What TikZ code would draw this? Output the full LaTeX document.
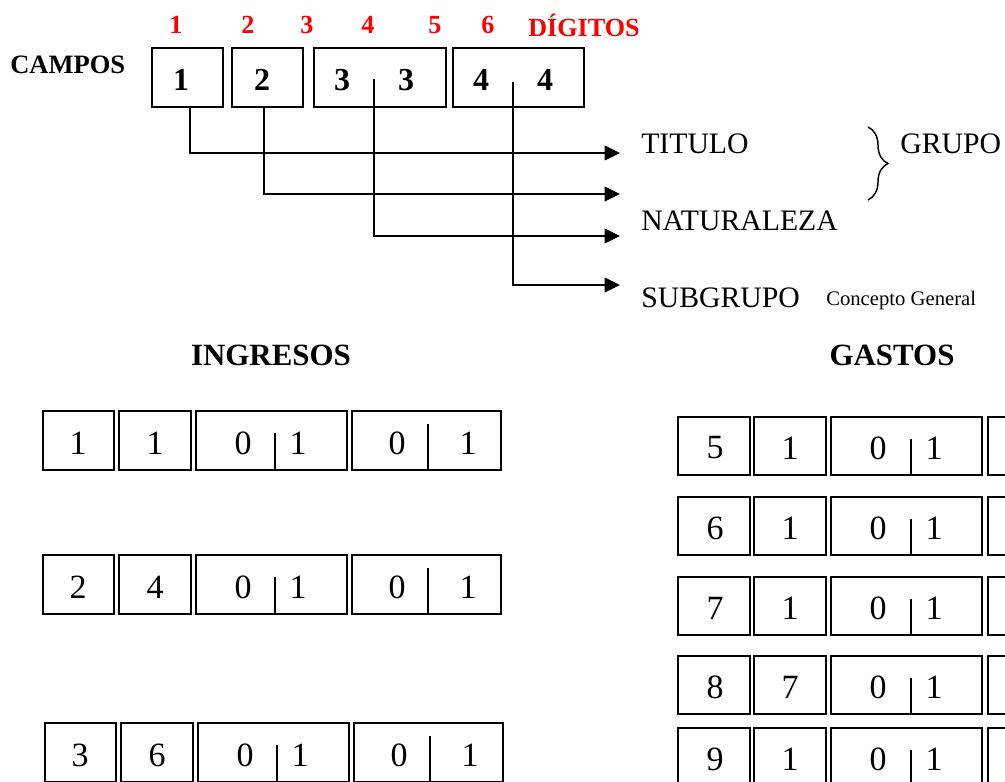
\documentclass[tikz,border=0pt]{standalone}
\usepackage{fontspec}
\setmainfont{Liberation Serif}
\usetikzlibrary{arrows.meta,fit,decorations.pathreplacing}
\definecolor{dred}{RGB}{255,0,0}
\tikzset{
 box/.style={draw, line width=1.1pt, inner sep=0pt},
 dig/.style={font=\fontsize{25.5}{26}\selectfont, inner sep=0pt},
 bdig/.style={font=\fontsize{24}{25}\selectfont\bfseries, inner sep=0pt},
 rdig/.style={font=\fontsize{19.6}{20}\selectfont\bfseries, text=dred, inner sep=0pt},
 lab/.style={font=\fontsize{22.3}{23}\selectfont, inner sep=0pt, anchor=west},
 small/.style={font=\fontsize{15.5}{16}\selectfont, inner sep=0pt, anchor=west},
 head/.style={font=\fontsize{23.2}{24}\selectfont\bfseries, inner sep=0pt},
 conn/.style={line width=1.1pt, -{Triangle[length=11.5pt,width=11pt]}},
 tickline/.style={line width=1.1pt},
}
% ingresos row: #1 name, #2 top y, #3 x offset, #4 first digit, #5 second digit
\newcommand\ingrow[5]{%
 \node[box, fit={({43+#3},{#2}) ({114+#3},{#2+59})}] (#1a) {};
 \node[box, fit={({119+#3},{#2}) ({191+#3},{#2+59})}] (#1b) {};
 \node[box, fit={({196+#3},{#2}) ({347+#3},{#2+59})}] (#1c) {};
 \node[box, fit={({352+#3},{#2}) ({501+#3},{#2+59})}] (#1d) {};
 \node[dig] (#1ta) at ({78+#3},{#2+32}) {#4};
 \node[dig] (#1tb) at ({155+#3},{#2+32}) {#5};
 \node[dig] (#1tc) at ({243+#3},{#2+32}) {0};
 \node[dig] (#1td) at ({298+#3},{#2+32}) {1};
 \node[dig] (#1te) at ({397+#3},{#2+32}) {0};
 \node[dig] (#1tf) at ({468+#3},{#2+32}) {1};
 \coordinate (#1kc) at ({275+#3},{#2+22});
 \coordinate (#1kd) at ({428+#3},{#2+13});
 \draw[tickline] (#1kc) -- (#1kc |- #1c.south);
 \draw[tickline] (#1kd) -- (#1kd |- #1d.south);
}
% gastos row: #1 name, #2 top y, #3 first digit, #4 second digit
\newcommand\gasrow[4]{%
 \node[box, fit={(678,{#2}) (750,{#2+58})}] (#1a) {};
 \node[box, fit={(754,{#2}) (826,{#2+58})}] (#1b) {};
 \node[box, fit={(831,{#2}) (982,{#2+58})}] (#1c) {};
 \node[box, fit={(988,{#2}) (1040,{#2+58})}] (#1d) {};
 \node[dig] (#1ta) at (715,{#2+31}) {#3};
 \node[dig] (#1tb) at (790,{#2+31}) {#4};
 \node[dig] (#1tc) at (878,{#2+31}) {0};
 \node[dig] (#1td) at (934,{#2+31}) {1};
 \coordinate (#1kc) at (911,{#2+22});
 \draw[tickline] (#1kc) -- (#1kc |- #1c.south);
}
\begin{document}
\begin{tikzpicture}[x=0.75pt, y=-0.75pt]
\useasboundingbox (0,0) rectangle (1005,781);
\clip (0,0) rectangle (1005,781);
% red digit positions
\node[rdig] (r1) at (176,25) {1};
\node[rdig] (r2) at (248,25) {2};
\node[rdig] (r3) at (307,25) {3};
\node[rdig] (r4) at (368,25) {4};
\node[rdig] (r5) at (435,25) {5};
\node[rdig] (r6) at (488,25) {6};
\node[rdig, anchor=west] (rd) at (528,25) {DÍGITOS};
\node[font=\fontsize{19.9}{21}\selectfont\bfseries, inner sep=0pt, anchor=west] (campos) at (10,65) {CAMPOS};
% field boxes
\node[box, fit={(152,48) (223,107)}] (b1) {};
\node[box, fit={(232,48) (303,107)}] (b2) {};
\node[box, fit={(314,48) (446,107)}] (b3) {};
\node[box, fit={(453,48) (584,107)}] (b4) {};
\node[bdig] (d1) at (181,80) {1};
\node[bdig] (d2) at (262,80) {2};
\node[bdig] (d3a) at (342,80) {3};
\node[bdig] (d3b) at (406,80) {3};
\node[bdig] (d4a) at (481,80) {4};
\node[bdig] (d4b) at (545,80) {4};
\coordinate (k3) at (374,79);
\coordinate (k4) at (513,82);
\coordinate (a1) at (620,153);
\coordinate (a2) at (620,194);
\coordinate (a3) at (620,236);
\coordinate (a4) at (620,285);
\draw[conn] ([xshift=1.9pt]b1.south) |- (a1);
\draw[conn] ([xshift=-2.6pt]b2.south) |- (a2);
\draw[conn] (k3) |- (a3);
\draw[conn] (k4) |- (a4);
% labels
\node[lab] (titulo) at (641,144) {TITULO};
\node[lab] (natur) at (641,221) {NATURALEZA};
\node[lab] (subg) at (641,298) {SUBGRUPO};
\node[small] (concepto) at (826,301) {Concepto General};
\node[lab] (grupo) at (900,144) {GRUPO};
\draw[line width=1.1pt, decorate, decoration={brace, amplitude=15pt}] (868,127) -- (868,200);
% headings
\node[head] (ingresos) at (271,355) {INGRESOS};
\node[head] (gastos) at (892,355) {GASTOS};
% ingresos rows
\ingrow{i1}{411}{0}{1}{1}
\ingrow{i2}{555}{0}{2}{4}
\ingrow{i3}{723}{2}{3}{6}
% gastos rows
\gasrow{g5}{417}{5}{1}
\gasrow{g6}{497}{6}{1}
\gasrow{g7}{577}{7}{1}
\gasrow{g8}{656}{8}{7}
\gasrow{g9}{728}{9}{1}
\end{tikzpicture}
\end{document}
